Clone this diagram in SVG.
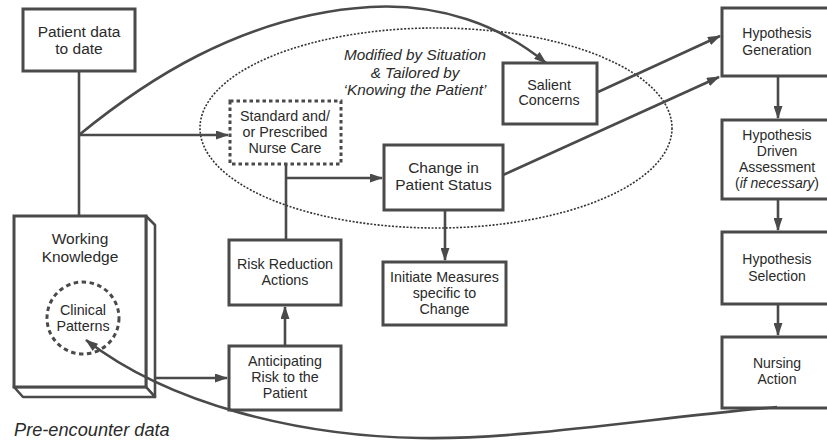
<svg xmlns="http://www.w3.org/2000/svg" width="827" height="443" viewBox="0 0 827 443">
<style>
.box{fill:#fff;stroke:#4a4a4a;stroke-width:3}
.dash{fill:#fff;stroke:#4a4a4a;stroke-width:3;stroke-dasharray:3.5 3}
.t{font-family:"Liberation Sans",Arial,sans-serif;font-size:14.3px;fill:#2a2a2a;text-anchor:middle}
.lg{font-size:15.5px}
.h{font-size:14px}
.it{font-family:"Liberation Sans",Arial,sans-serif;font-style:italic;fill:#2a2a2a}
.ln{fill:none;stroke:#4a4a4a;stroke-width:2.6}
.ar{fill:none;stroke:#4a4a4a;stroke-width:2.6;marker-end:url(#ah)}
</style>
<defs>
<marker id="ah" viewBox="0 0 13 9" markerWidth="13" markerHeight="9" refX="12" refY="4.5" orient="auto" markerUnits="userSpaceOnUse">
<path d="M0,0 L13,4.5 L0,9 z" fill="#4a4a4a"/>
</marker>
</defs>
<rect width="827" height="443" fill="#fff"/>
<ellipse cx="436" cy="128" rx="236" ry="100" fill="none" stroke="#333" stroke-width="1.6" stroke-dasharray="2 1.6"/>
<g id="connectors">
<path class="ln" d="M79,71 V216"/>
<path class="ar" d="M79,135 H228"/>
<path class="ar" d="M79,135 C140,85 240,15 370,7 C440,3 500,25 546,63"/>
<path class="ln" d="M286,164 V240"/>
<path class="ar" d="M286,178 H382"/>
<path class="ar" d="M285,346 V307"/>
<path class="ar" d="M155,378 H227"/>
<path class="ar" d="M445,210 V260"/>
<path class="ar" d="M598,92 L720,36"/>
<path class="ar" d="M503,175 L719,77"/>
<path class="ar" d="M778,76 V118"/>
<path class="ar" d="M778,199 V230"/>
<path class="ar" d="M778,304 V335"/>
</g>
<g id="patient-data">
<rect class="box" x="23" y="9" width="112" height="62"/>
<text class="t lg" x="79" y="37">Patient data</text>
<text class="t lg" x="79" y="54">to date</text>
</g>
<g id="working-knowledge">
<polygon points="146,216 155,225 155,397 146,387" fill="#fff" stroke="#4a4a4a" stroke-width="2.6" stroke-linejoin="round"/>
<polygon points="14,387 146,387 155,397 23,397" fill="#fff" stroke="#4a4a4a" stroke-width="2.6" stroke-linejoin="round"/>
<rect class="box" x="14" y="216" width="132" height="171"/>
<text class="t lg" x="80" y="244">Working</text>
<text class="t lg" x="80" y="262">Knowledge</text>
</g>
<g id="clinical-patterns">
<circle cx="83" cy="318" r="36" fill="#fff" stroke="#4a4a4a" stroke-width="3" stroke-dasharray="4.5 3.5"/>
<text class="t" x="83" y="315">Clinical</text>
<text class="t" x="83" y="331">Patterns</text>
</g>
<g id="standard-care">
<rect class="dash" x="230" y="101" width="111" height="63"/>
<text class="t" x="285" y="121">Standard and/</text>
<text class="t" x="285" y="137">or Prescribed</text>
<text class="t" x="285" y="153">Nurse Care</text>
</g>
<g id="situation-label">
<text class="it" font-size="15.3" text-anchor="middle" x="415" y="60">Modified by Situation</text>
<text class="it" font-size="15.3" text-anchor="middle" x="415" y="78">&amp; Tailored by</text>
<text class="it" font-size="15.3" text-anchor="middle" x="415" y="95">‘Knowing the Patient’</text>
</g>
<g id="salient-concerns">
<rect class="box" x="503" y="63" width="94" height="61"/>
<text class="t" x="549" y="90">Salient</text>
<text class="t" x="549" y="105">Concerns</text>
</g>
<g id="change-status">
<rect class="box" x="384" y="145" width="119" height="65"/>
<text class="t lg" x="443.5" y="173">Change in</text>
<text class="t lg" x="443.5" y="190">Patient Status</text>
</g>
<g id="risk-reduction">
<rect class="box" x="229" y="240" width="112" height="65"/>
<text class="t" x="285" y="269">Risk Reduction</text>
<text class="t" x="285" y="285">Actions</text>
</g>
<g id="anticipating-risk">
<rect class="box" x="229" y="346" width="112" height="64"/>
<text class="t" x="285" y="366">Anticipating</text>
<text class="t" x="285" y="382">Risk to the</text>
<text class="t" x="285" y="398">Patient</text>
</g>
<g id="initiate-measures">
<rect class="box" x="383" y="262" width="123" height="63"/>
<text class="t" x="444.5" y="282">Initiate Measures</text>
<text class="t" x="444.5" y="298">specific to</text>
<text class="t" x="444.5" y="314">Change</text>
</g>
<g id="hypothesis-generation">
<rect class="box" x="722" y="8" width="110" height="68"/>
<text class="t h" x="777" y="38">Hypothesis</text>
<text class="t h" x="777" y="55">Generation</text>
</g>
<g id="hypothesis-assessment">
<rect class="box" x="722" y="120" width="110" height="79"/>
<text class="t h" x="777" y="140">Hypothesis</text>
<text class="t h" x="777" y="156">Driven</text>
<text class="t h" x="777" y="172">Assessment</text>
<text class="t h" x="777" y="188">(<tspan font-style="italic">if necessary</tspan>)</text>
</g>
<g id="hypothesis-selection">
<rect class="box" x="722" y="232" width="110" height="72"/>
<text class="t h" x="777" y="264">Hypothesis</text>
<text class="t h" x="777" y="281">Selection</text>
</g>
<g id="nursing-action">
<rect class="box" x="722" y="337" width="110" height="71"/>
<text class="t h" x="777" y="368">Nursing</text>
<text class="t h" x="777" y="384">Action</text>
</g>
<g id="feedback-connector">
<path class="ar" d="M777,407 C650,418 520,440 420,438 C300,436 170,405 86,340"/>
</g>
<text class="it" font-size="18.2" x="14" y="436">Pre-encounter data</text>
</svg>
